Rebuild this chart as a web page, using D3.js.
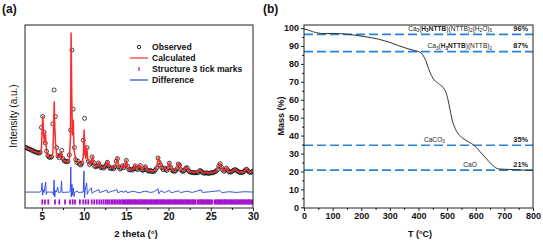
<!DOCTYPE html>
<html>
<head>
<meta charset="utf-8">
<script src="https://cdn.jsdelivr.net/npm/d3@7"></script>
<style>
  body { margin: 0; background: #fff; }
  svg { display: block; font-family: "Liberation Sans", Arial, sans-serif; }
</style>
</head>
<body>
<script>
// ---- panel (a) : XRD refinement ----
var obsStart = 3, obsStep = 0.15;   // 2theta sampling of the observed points
var observed = [
  33.2, 33.0, 32.6, 32.3, 32.1, 31.6, 31.4, 31.0, 30.7, 30.5,
  30.2, 30.0, 30.4, 44.0, 50.0, 41.5, 35.5, 31.0, 28.6, 27.8,
  27.6, 28.0, 46.0, 64.5, 50.0, 33.0, 28.5, 27.4, 29.0, 31.5,
  27.0, 25.8, 25.5, 25.2, 25.5, 29.0, 42.6, 86.3, 54.0, 33.0,
  26.5, 24.8, 25.5, 24.0, 23.5, 24.5, 37.0, 49.0, 30.0, 33.0,
  25.5, 23.8, 24.5, 27.9, 25.0, 22.8, 22.5, 23.0, 24.6, 23.0,
  22.0, 22.3, 21.8, 22.5, 23.5, 25.0, 23.0, 21.8, 21.5, 22.0,
  21.4, 22.5, 25.5, 27.0, 22.5, 21.3, 21.8, 23.0, 22.0, 23.5,
  26.0, 22.8, 21.0, 20.8, 21.2, 20.7, 21.5, 23.0, 21.5, 21.0,
  22.0, 23.2, 21.0, 20.5, 21.0, 22.5, 21.0, 20.3, 20.1, 20.6,
  20.0, 19.8, 20.2, 20.8, 22.0, 27.3, 25.0, 23.5, 22.0, 21.0,
  21.8, 21.0, 20.5, 22.0, 24.5, 22.3, 20.6, 20.2, 20.0, 20.4,
  21.5, 24.0, 23.5, 21.0, 20.2, 20.0, 20.6, 21.8, 22.0, 20.4,
  19.8, 19.5, 19.4, 19.3, 19.2, 19.4, 19.2, 19.6, 20.5, 20.2,
  19.4, 19.1, 19.0, 19.2, 19.1, 18.9, 19.0, 19.3, 19.2, 19.5,
  19.8, 20.2, 21.0, 23.0, 24.2, 22.5, 20.8, 20.0, 20.6, 21.8,
  20.8, 19.8, 19.6, 19.8, 20.3, 20.8, 21.0, 20.6, 20.0, 19.6,
  19.4, 19.3, 19.5, 20.0, 20.8, 21.2, 20.3, 19.6, 19.4, 19.7,
  20.2
];
var calculated = [
  [3.0,33.0],[3.5,32.2],[4.0,31.1],[4.5,30.2],[4.85,30.0],[4.95,33],[5.05,45],[5.12,50],
  [5.2,40],[5.3,36],[5.42,41],[5.5,34],[5.6,29.5],[5.8,28],[6.1,27.8],[6.3,30],[6.4,45],
  [6.46,58],[6.52,45],[6.62,35],[6.75,29],[6.9,28],[7.05,27.5],[7.2,28.5],[7.3,31],[7.4,28],
  [7.6,26],[8.0,25.3],[8.25,27],[8.38,38],[8.46,95.6],[8.54,60],[8.62,40],[8.72,48],[8.8,32],
  [9.0,26.5],[9.2,25.5],[9.4,24.5],[9.7,24],[9.9,28],[10.0,42.6],[10.1,30],[10.2,27],[10.3,33],
  [10.45,26],[10.65,24],[10.85,25],[10.98,28],[11.1,25],[11.3,23],[11.6,23.5],[11.75,25],
  [11.95,22.5],[12.3,22],[12.6,23.5],[12.75,25.5],[12.95,23],[13.3,21.8],[13.65,22.5],
  [13.85,26],[13.95,27.3],[14.1,22.5],[14.4,21.8],[14.6,23.5],[14.75,22],[14.9,23],[15.0,26.2],
  [15.15,22.5],[15.5,21],[15.9,21.3],[16.05,23.5],[16.25,21.5],[16.6,23.5],[16.85,21],
  [17.25,23],[17.45,20.8],[17.9,20.3],[18.3,20.3],[18.6,22],[18.78,27.5],[18.95,25],[19.1,23.5],
  [19.35,21.2],[19.55,22],[19.8,20.6],[20.1,24.8],[20.3,22],[20.6,20.2],[21.0,21.5],[21.2,24.3],
  [21.35,23.5],[21.6,20.3],[22.15,22.2],[22.4,20.2],[23.0,19.4],[23.7,20.6],[24.0,19.5],
  [25.0,19.2],[25.6,20],[25.95,23],[26.1,24.3],[26.3,22],[26.55,20.2],[26.85,22],[27.1,20],
  [27.5,19.8],[27.95,21.2],[28.3,19.8],[28.8,19.5],[29.25,21.3],[29.6,19.7],[30.0,20.2]
];
var difference = [
  [3.0,8.7],[4.8,8.7],[4.95,9.5],[5.02,13.7],[5.08,7.0],[5.15,10],[5.25,8.5],[5.45,14.2],
  [5.52,7.5],[5.6,8.7],[6.3,8.7],[6.38,7],[6.44,15.3],[6.52,6],[6.6,9.5],[6.7,8.7],[6.88,11.5],
  [6.95,8.5],[7.25,8.7],[7.32,14.8],[7.4,8.5],[8.2,8.7],[8.36,9],[8.42,22.4],[8.48,6],[8.56,13],
  [8.62,7],[8.72,11],[8.82,6.2],[8.9,8.7],[9.2,9.3],[9.3,8.5],[9.9,8.7],[9.98,20.2],[10.05,5.5],
  [10.12,9.5],[10.3,13.7],[10.38,7.5],[10.5,9],[10.85,11],[10.95,8.0],[11.1,8.7],[11.75,10],
  [11.85,8.4],[12.7,9.8],[12.8,8.4],[13.9,10],[14.0,8.3],[14.5,9.3],[14.6,8.5],[15.0,9.4],
  [15.1,8.3],[15.8,9.2],[16.5,8.3],[17.2,9.2],[17.9,8.5],[18.3,8.9],[18.75,10.5],[18.85,7.8],
  [19.1,9.5],[19.5,8.4],[20.1,9.6],[20.3,8.3],[21.2,9.4],[21.4,8.4],[22.2,9.2],[22.8,8.5],
  [23.85,9.9],[24.0,8.5],[25.0,8.9],[26.1,9.5],[26.3,8.4],[27.2,8.9],[28.0,8.5],[29.0,8.9],[30.0,8.7]
];
var tickMarks = [
  5.05, 5.37, 5.76, 6.55, 7.06, 7.74, 8.33, 8.65, 8.92, 9.5, 9.9, 10.19, 10.5, 10.9, 11.2,
  11.5, 11.8, 12.05, 12.3, 12.55, 12.75, 12.95, 13.2, 13.4, 13.6, 13.75, 13.95, 14.15, 14.3,
  14.5, 14.65, 14.8, 14.95, 15.1, 15.25, 15.4, 15.5, 15.65, 15.8, 15.95, 16.05, 16.2, 16.35,
  16.5, 16.6, 16.75, 16.9, 17.05, 17.2, 17.3, 17.45, 17.6, 17.75, 17.9, 18.0, 18.15, 18.3,
  18.45, 18.6, 18.7, 18.85, 19.0, 19.15, 19.3, 19.4, 19.55, 19.7, 19.85, 20.0, 20.1, 20.25,
  20.4, 20.55, 20.7, 20.8, 20.95, 21.1, 21.25, 21.4, 21.5, 21.65, 21.8, 21.95, 22.1, 22.2,
  22.35, 22.5, 22.65, 22.8, 22.9, 23.05, 23.2, 23.45, 23.6, 23.75, 23.9, 24.0, 24.15, 24.3,
  24.45, 24.6, 24.7, 24.85, 25.0, 25.15, 25.45, 25.6, 25.75, 25.9, 26.0, 26.15, 26.3, 26.45,
  26.6, 26.7, 26.85, 27.0, 27.15, 27.3, 27.4, 27.55, 27.7, 27.85, 28.0, 28.1, 28.25, 28.4,
  28.55, 28.7, 28.8, 28.95, 29.1, 29.25, 29.4, 29.5, 29.65, 29.8, 29.95
];
var legendLabels = ["Observed", "Calculated", "Structure 3 tick marks", "Difference"];
var xTicksA = [5, 10, 15, 20, 25, 30];
var xMinorA = [7.5, 12.5, 17.5, 22.5, 27.5];

// ---- panel (b) : TGA ----
var tgaTemp = [0, 15, 30, 50, 70, 100, 140, 180, 220, 260, 300, 330, 360, 390, 405, 415, 425,
  435, 445, 455, 470, 485, 495, 503, 510, 518, 528, 540, 555, 575, 595, 615, 635, 655, 670, 680,
  700, 740, 800];
var tgaMass = [99.5, 98.9, 98.0, 97.2, 96.9, 97.0, 96.7, 96.0, 95.0, 93.8, 92.0, 90.2, 88.6,
  87.3, 86.5, 85.0, 82.0, 77.5, 73.5, 71.0, 69.0, 67.0, 64.5, 60.0, 54.5, 48.5, 44.0, 40.8, 38.5,
  36.5, 34.5, 31.0, 27.5, 24.0, 22.0, 21.4, 21.2, 21.0, 20.5];
var levelMass = [96.5, 86.8, 34.6, 20.7];
var levelPct = ["96%", "87%", "35%", "21%"];
// formula pieces: [text, kind]  kind: "" normal, "b" bold, "s" subscript, "bs" bold subscript
var levelNames = [
  [["Ca",""],["3","s"],["(",""],["H","b"],["3","bs"],["NTTB","b"],[")(NTTB)",""],["2","s"],["(H",""],["2","s"],["O)",""],["6","s"]],
  [["Ca",""],["3","s"],["(",""],["H","b"],["3","bs"],["NTTB","b"],[")(NTTB)",""],["2","s"]],
  [["CaCO",""],["3","s"]],
  [["CaO",""]]
];
var xTicksB = [0, 100, 200, 300, 400, 500, 600, 700, 800];
var xMinorB = [50, 150, 250, 350, 450, 550, 650, 750];
var yTicksB = [0, 10, 20, 30, 40, 50, 60, 70, 80, 90, 100];
var yMinorB = [5, 15, 25, 35, 45, 55, 65, 75, 85, 95];

var width = 543, height = 242;
var svg = d3.select('body').append('svg').attr('width', width).attr('height', height);

// ================= panel (a) =================
var xA = d3.scaleLinear().domain([3, 30]).range([25, 253]);
var yA = d3.scaleLinear().domain([0, 100]).range([208, 25]);

svg.append('clipPath').attr('id', 'clipA')
  .append('rect').attr('x', 25).attr('y', 25).attr('width', 228).attr('height', 183);

var gA = svg.append('g').attr('clip-path', 'url(#clipA)');

// tick marks
gA.selectAll('line.tm').data(tickMarks).enter().append('line')
  .attr('class', 'tm')
  .attr('x1', function(d) { return xA(d); }).attr('x2', function(d) { return xA(d); })
  .attr('y1', yA(4.7)).attr('y2', yA(1.9))
  .attr('stroke', '#a414cf').attr('stroke-width', 1.8);

// difference
gA.append('path').datum(difference)
  .attr('fill', 'none').attr('stroke', '#2344e4').attr('stroke-width', 0.9)
  .attr('d', d3.line().x(function(d) { return xA(d[0]); }).y(function(d) { return yA(d[1]); }));

// observed
gA.selectAll('circle.obs').data(observed).enter().append('circle')
  .attr('class', 'obs')
  .attr('cx', function(d, i) { return xA(obsStart + i * obsStep); })
  .attr('cy', function(d) { return yA(d); })
  .attr('r', 2)
  .attr('fill', 'none').attr('stroke', '#111').attr('stroke-width', 0.8);

// calculated
gA.append('path').datum(calculated)
  .attr('fill', 'none').attr('stroke', '#ff2b2b').attr('stroke-width', 1.5)
  .attr('stroke-linejoin', 'round')
  .attr('d', d3.line().x(function(d) { return xA(d[0]); }).y(function(d) { return yA(d[1]); }));

// frame + axis
svg.append('rect').attr('x', 25).attr('y', 25).attr('width', 228).attr('height', 183)
  .attr('fill', 'none').attr('stroke', '#222').attr('stroke-width', 1);

var axA = svg.append('g').attr('transform', 'translate(0,208)')
  .call(d3.axisBottom(xA).tickValues(xTicksA).tickSize(3).tickPadding(2).tickFormat(d3.format('d')));
axA.select('.domain').remove();
axA.selectAll('text').attr('font-size', 10).attr('font-weight', 'bold').attr('fill', '#111')
  .attr('font-family', '"Liberation Sans", Arial, sans-serif');
axA.selectAll('line').attr('stroke', '#222');
svg.append('g').attr('transform', 'translate(0,208)')
  .call(d3.axisBottom(xA).tickValues(xMinorA).tickSize(2).tickFormat(''))
  .select('.domain').remove();

svg.append('text').attr('x', 136).attr('y', 237).attr('text-anchor', 'middle')
  .attr('font-size', 9.5).attr('font-weight', 'bold').attr('fill', '#111')
  .text('2 theta (°)');
svg.append('text').attr('transform', 'translate(17,116) rotate(-90)').attr('text-anchor', 'middle')
  .attr('font-size', 10).attr('fill', '#111').text('Intensity (a.u.)');
svg.append('text').attr('x', 2).attr('y', 13).attr('font-size', 12).attr('font-weight', 'bold')
  .attr('fill', '#111').text('(a)');

// legend
var leg = svg.append('g').selectAll('g').data(legendLabels).enter().append('g')
  .attr('transform', function(d, i) { return 'translate(0,' + (47 + i * 11) + ')'; });
leg.append('text').attr('x', 152).attr('dy', '0.35em').attr('font-size', 8.6)
  .attr('font-weight', 'bold').attr('fill', '#111').text(function(d) { return d; });
leg.each(function(d, i) {
  var g = d3.select(this);
  if (i === 0) g.append('circle').attr('cx', 139).attr('r', 1.7).attr('fill', 'none').attr('stroke', '#111').attr('stroke-width', 0.9);
  if (i === 1) g.append('line').attr('x1', 130).attr('x2', 148).attr('stroke', '#ff2b2b').attr('stroke-width', 1.2);
  if (i === 2) g.append('line').attr('x1', 139).attr('x2', 139).attr('y1', -2).attr('y2', 2).attr('stroke', '#a414cf').attr('stroke-width', 1.2);
  if (i === 3) g.append('line').attr('x1', 130).attr('x2', 148).attr('stroke', '#2344e4').attr('stroke-width', 1.2);
});

// ================= panel (b) =================
var xB = d3.scaleLinear().domain([0, 800]).range([304, 533]);
var yB = d3.scaleLinear().domain([-0.4, 101.7]).range([208, 25]);

// level lines
svg.append('g').selectAll('line').data(levelMass).enter().append('line')
  .attr('x1', xB(0)).attr('x2', xB(800))
  .attr('y1', function(d) { return yB(d); }).attr('y2', function(d) { return yB(d); })
  .attr('stroke', '#2683d9').attr('stroke-width', 1.7).attr('stroke-dasharray', '9,4');

// TGA curve
svg.append('path').datum(d3.zip(tgaTemp, tgaMass))
  .attr('fill', 'none').attr('stroke', '#333').attr('stroke-width', 1)
  .attr('d', d3.line().curve(d3.curveMonotoneX)
    .x(function(d) { return xB(d[0]); }).y(function(d) { return yB(d[1]); }));

// level labels (right edge in T units)
var nameEndT = [657, 657, 492, 604];
levelNames.forEach(function(parts, k) {
  var t = svg.append('text').attr('x', xB(nameEndT[k])).attr('y', yB(levelMass[k]) - 3.5)
    .attr('text-anchor', 'end').attr('font-size', 6.6).attr('fill', '#222');
  var shifted = false;
  parts.forEach(function(p) {
    var sub = p[1].indexOf('s') >= 0;
    var ts = t.append('tspan').text(p[0]);
    if (p[1].indexOf('b') >= 0) ts.attr('font-weight', 'bold');
    if (sub && !shifted) { ts.attr('dy', 1.6).attr('font-size', 4.6); shifted = true; }
    else if (sub) { ts.attr('font-size', 4.6); }
    else if (shifted) { ts.attr('dy', -1.6); shifted = false; }
  });
});
svg.append('g').selectAll('text').data(levelPct).enter().append('text')
  .attr('x', xB(783)).attr('y', function(d, i) { return yB(levelMass[i]) - 3.5; })
  .attr('text-anchor', 'end').attr('font-size', 7.4).attr('font-weight', 'bold').attr('fill', '#222')
  .text(function(d) { return d; });

svg.append('rect').attr('x', 304).attr('y', 25).attr('width', 229).attr('height', 183)
  .attr('fill', 'none').attr('stroke', '#222').attr('stroke-width', 1);

var axBx = svg.append('g').attr('transform', 'translate(0,208)')
  .call(d3.axisBottom(xB).tickValues(xTicksB).tickSize(3).tickPadding(2));
var axBy = svg.append('g').attr('transform', 'translate(304,0)')
  .call(d3.axisLeft(yB).tickValues(yTicksB).tickSize(3).tickPadding(2));
[axBx, axBy].forEach(function(a) {
  a.select('.domain').remove();
  a.selectAll('text').attr('font-size', 9).attr('font-weight', 'bold').attr('fill', '#111')
    .attr('font-family', '"Liberation Sans", Arial, sans-serif');
  a.selectAll('line').attr('stroke', '#222');
});
svg.append('g').attr('transform', 'translate(0,208)')
  .call(d3.axisBottom(xB).tickValues(xMinorB).tickSize(1.8).tickFormat(''))
  .select('.domain').remove();
svg.append('g').attr('transform', 'translate(304,0)')
  .call(d3.axisLeft(yB).tickValues(yMinorB).tickSize(1.8).tickFormat(''))
  .select('.domain').remove();

svg.append('text').attr('x', 420).attr('y', 237).attr('text-anchor', 'middle')
  .attr('font-size', 9).attr('font-weight', 'bold').attr('fill', '#111').text('T (°C)');
svg.append('text').attr('transform', 'translate(284,116) rotate(-90)').attr('text-anchor', 'middle')
  .attr('font-size', 9).attr('font-weight', 'bold').attr('fill', '#111').text('Mass (%)');
svg.append('text').attr('x', 263).attr('y', 13).attr('font-size', 12).attr('font-weight', 'bold')
  .attr('fill', '#111').text('(b)');
</script>
</body>
</html>
